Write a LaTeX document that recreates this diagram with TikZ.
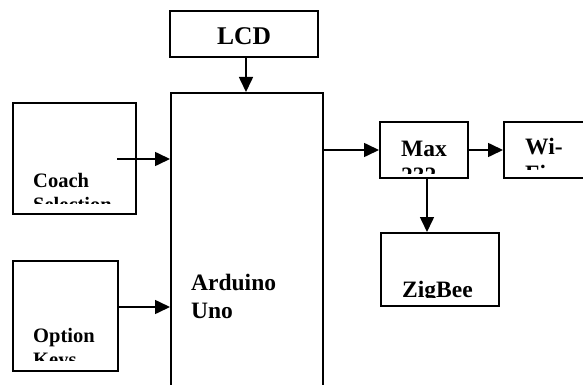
\documentclass[tikz,border=0pt]{standalone}
\usepackage{fontspec}
\setmainfont{Liberation Serif}
\usetikzlibrary{arrows.meta}
\tikzset{
  blk/.style={draw, line width=1.6pt, rectangle, inner sep=0pt, anchor=north west},
  arr/.style={line width=1.6pt, -{Triangle[length=15pt,width=14pt]}},
  big/.style={font=\bfseries\fontsize{23.5}{27}\selectfont, inner sep=0pt, anchor=base west},
  small/.style={font=\bfseries\fontsize{20.5}{23.6}\selectfont, inner sep=0pt, anchor=base west}
}
\begin{document}
\begin{tikzpicture}[x=1pt,y=-1pt]
\useasboundingbox (0,0) rectangle (583,385);
\clip (0,0) rectangle (583,385);
\fill[white] (0,0) rectangle (583,385);
% boxes
\node[blk, minimum width=148pt, minimum height=46pt] (lcd) at (169,10) {};
\node[blk, minimum width=152pt, minimum height=310pt] (ard) at (170,92) {};
\node[blk, minimum width=123pt, minimum height=111pt] (coach) at (12,102) {};
\node[blk, minimum width=105pt, minimum height=110pt] (opt) at (12,260) {};
\node[blk, minimum width=88pt, minimum height=56pt] (max) at (379,121) {};
\node[blk, minimum width=100pt, minimum height=56pt] (wifi) at (503,121) {};
\node[blk, minimum width=118pt, minimum height=73pt] (zig) at (380,232) {};
% texts
\node[big, anchor=base, font=\bfseries\fontsize{25.5}{29}\selectfont] (lcdt) at (244,45) {LCD};
\node[big] (ardt1) at (191,290) {Arduino};
\node[big] (ardt2) at (191,318) {Uno};
\node[small] (coacht1) at (33,187) {Coach};
\begin{scope}
\clip (14,104) rectangle (133,203);
\node[small] (coacht2) at (33,211) {Selection};
\end{scope}
\node[small] (optt1) at (33,342) {Option};
\begin{scope}
\clip (14,262) rectangle (115,360);
\node[small] (optt2) at (33,366) {Keys};
\end{scope}
\node[big] (maxt1) at (401,156) {Max};
\begin{scope}
\clip (381,123) rectangle (465,173);
\node[big] (maxt2) at (401,183) {232};
\end{scope}
\node[big] (wifit1) at (525,154) {Wi-};
\begin{scope}
\clip (505,123) rectangle (583,169);
\node[big] (wifit2) at (525,181) {Fi};
\end{scope}
\begin{scope}
\clip (382,234) rectangle (496,297);
\node[big] (zigt) at (402,297) {ZigBee};
\end{scope}
% connectors
\draw[arr] (lcd.south -| 246,0) -- (ard.north -| 246,0);
\draw[arr] (117,159) -- (ard.west |- 0,159);
\draw[arr] (opt.east |- 0,307) -- (ard.west |- 0,307);
\draw[arr] (ard.east |- 0,150) -- (max.west |- 0,150);
\draw[arr] (max.east |- 0,150) -- (wifi.west |- 0,150);
\draw[arr] (max.south -| 427,0) -- (zig.north -| 427,0);
\end{tikzpicture}
\end{document}
